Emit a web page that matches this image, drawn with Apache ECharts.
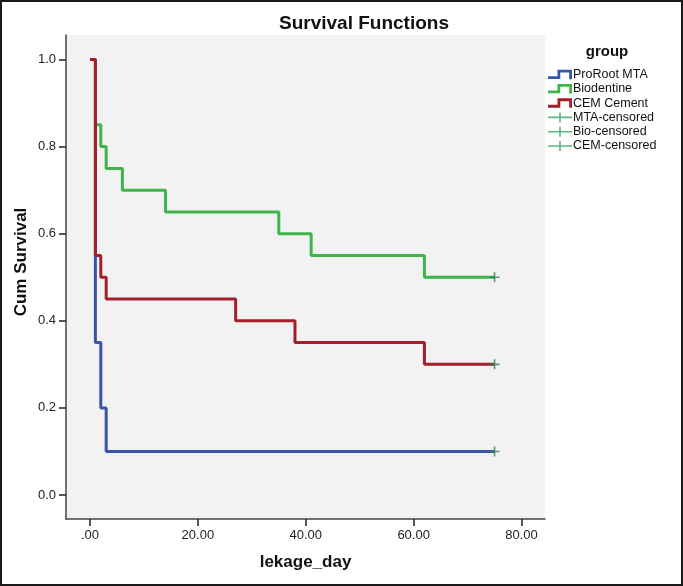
<!DOCTYPE html>
<html>
<head>
<meta charset="utf-8">
<script src="https://cdn.jsdelivr.net/npm/echarts@6/dist/echarts.min.js"></script>
<style>
html,body{margin:0;padding:0;background:#fff;}
#chart{width:683px;height:586px;}
</style>
</head>
<body>
<div id="chart"></div>
<script>
// ---- data ----
const mtaDays = [0, 1, 2, 3, 75];
const mtaSurv = [1.0, 0.35, 0.20, 0.10, 0.10];
const bioDays = [0, 1, 2, 3, 6, 14, 35, 41, 62, 75];
const bioSurv = [1.0, 0.85, 0.80, 0.75, 0.70, 0.65, 0.60, 0.55, 0.50, 0.50];
const cemDays = [0, 1, 2, 3, 27, 38, 62, 75];
const cemSurv = [1.0, 0.55, 0.50, 0.45, 0.40, 0.35, 0.30, 0.30];
const censorDay = 75;
const censorSurv = [0.10, 0.50, 0.30]; // MTA, Bio, CEM
const xTicks = [0, 20, 40, 60, 80];
const yTicks = [0, 0.2, 0.4, 0.6, 0.8, 1.0];
const groupNames = ['ProRoot MTA', 'Biodentine', 'CEM Cement'];
const censorNames = ['MTA-censored', 'Bio-censored', 'CEM-censored'];

const FONT = 'Arial, "Liberation Sans", sans-serif';
const colors = ['#3a54ac', '#3db54a', '#a3202b'];
const censorColor = '#2a7f52';
const stepIcon = 'path://M0,6.5 L9.5,6.5 L9.5,0 L24,0 L24,9.5 L21.2,9.5 L21.2,2.8 L12.3,2.8 L12.3,9.3 L0,9.3 Z';
const crossIcon = 'path://M0,4.2 L24,4.2 L24,5.8 L0,5.8 Z M11.2,0 L12.8,0 L12.8,10 L11.2,10 Z';
const plusSymbol = 'path://M0,4.2 L10,4.2 L10,5.8 L0,5.8 Z M4.2,0 L5.8,0 L5.8,10 L4.2,10 Z';

const zip = (a, b) => a.map((d, i) => [d, b[i]]);
const lineData = [zip(mtaDays, mtaSurv), zip(bioDays, bioSurv), zip(cemDays, cemSurv)];

const series = [];
groupNames.forEach((n, i) => {
  series.push({
    name: n, type: 'line', step: 'end', data: lineData[i],
    showSymbol: false, symbol: 'none',
    lineStyle: {width: 3, color: colors[i]}, itemStyle: {color: colors[i]},
    z: 2 + i, silent: true
  });
});
censorNames.forEach((n, i) => {
  series.push({
    name: n, type: 'scatter', data: [[censorDay, censorSurv[i]]],
    symbol: plusSymbol, symbolSize: 10,
    itemStyle: {color: censorColor}, z: 10
  });
});

const chart = echarts.init(document.getElementById('chart'), null, {renderer: 'canvas'});
chart.setOption({
  animation: false,
  backgroundColor: '#ffffff',
  title: {
    text: 'Survival Functions', left: 359, top: 9, textAlign: 'center',
    textStyle: {fontFamily: FONT, fontSize: 19, fontWeight: 'bold', color: '#111'}
  },
  grid: {
    left: 66, top: 35, right: 138, bottom: 67, show: true,
    backgroundColor: '#f2f2f2', borderWidth: 0
  },
  legend: {
    orient: 'vertical', left: 548, top: 68, padding: 0,
    itemWidth: 24, itemHeight: 10, itemGap: 1.3,
    textStyle: {fontFamily: FONT, fontSize: 12.5, color: '#111', padding: [0, 0, 0, -4]},
    data: groupNames.map((n, i) => ({name: n, icon: stepIcon}))
      .concat(censorNames.map(n => ({name: n, icon: crossIcon, itemStyle: {color: '#38a066'}}))),
    selectedMode: false
  },
  xAxis: {
    type: 'value', min: -4.45, max: 84.35,
    name: 'lekage_day', nameLocation: 'middle', nameGap: 35,
    nameTextStyle: {fontFamily: FONT, fontSize: 17, fontWeight: 'bold', color: '#111'},
    axisLine: {onZero: false, lineStyle: {color: '#444', width: 1.5}},
    axisTick: {show: true, length: 7, customValues: xTicks, lineStyle: {color: '#222', width: 1.5}},
    axisLabel: {customValues: xTicks, margin: 10, fontFamily: FONT, fontSize: 13, color: '#222',
      formatter: v => v === 0 ? '.00' : v.toFixed(2)},
    splitLine: {show: false}
  },
  yAxis: {
    type: 'value', min: -0.0551, max: 1.0563,
    axisLine: {show: true, onZero: false, lineStyle: {color: '#444', width: 1.5}},
    axisTick: {show: true, length: 7, customValues: yTicks, lineStyle: {color: '#222', width: 1.5}},
    axisLabel: {customValues: yTicks, margin: 10, fontFamily: FONT, fontSize: 13, color: '#222',
      formatter: v => v.toFixed(1)},
    splitLine: {show: false}
  },
  graphic: [
    {type: 'text', x: 21, y: 262, rotation: Math.PI / 2,
     style: {text: 'Cum Survival', font: 'bold 17px ' + FONT, fill: '#111', textAlign: 'center', textVerticalAlign: 'middle'}},
    {type: 'text', x: 607, y: 52,
     style: {text: 'group', font: 'bold 15px ' + FONT, fill: '#111', textAlign: 'center', textVerticalAlign: 'middle'}},
    {type: 'rect', shape: {x: 1, y: 1, width: 681, height: 584}, silent: true, z: 100,
     style: {fill: 'none', stroke: '#1a1a1a', lineWidth: 2}}
  ],
  series: series
});
</script>
</body>
</html>
